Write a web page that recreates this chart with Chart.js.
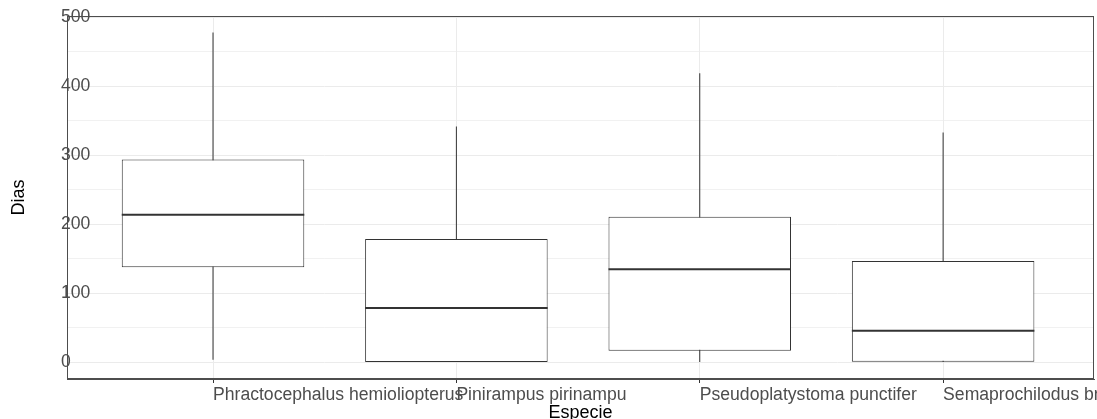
<!DOCTYPE html>
<html lang="pt">
<head>
  <meta charset="UTF-8">
  <title>Dias por Especie</title>
  <script src="https://cdn.jsdelivr.net/npm/chart.js"></script>
  <style>
    html, body { margin: 0; padding: 0; background: #fff; }
    #wrap { width: 1097px; height: 419px; }
  </style>
</head>
<body>
  <div id="wrap"><canvas id="boxChart"></canvas></div>
  <script>
    // valores (dias)
    const especies = ['Phractocephalus hemioliopterus', 'Pinirampus pirinampu', 'Pseudoplatystoma punctifer', 'Semaprochilodus brama'];
    const minimos = [4, 0, 0, 0];
    const q1 = [138, 0, 17, 1];
    const medianas = [214, 79, 135, 46];
    const q3 = [294, 179, 211, 147];
    const maximos = [478, 342, 419, 333];
    const yTicks = [0, 50, 100, 150, 200, 250, 300, 350, 400, 450, 500];

    Chart.defaults.font.family = "'Liberation Sans', Arial, sans-serif";

    const caixas = especies.map((e, i) => ({ x: i + 1, y: [q1[i], q3[i]] }));
    const bigodes = especies.map((e, i) => ({ x: i + 1, y: [minimos[i], maximos[i]] }));

    // linha da mediana por cima das caixas
    const medianaPlugin = {
      id: 'mediana',
      afterDatasetsDraw(chart) {
        const ctx = chart.ctx;
        const meta = chart.getDatasetMeta(1);
        ctx.save();
        ctx.strokeStyle = '#333';
        ctx.lineWidth = 2;
        meta.data.forEach((el, i) => {
          const y = chart.scales.y.getPixelForValue(medianas[i]);
          ctx.beginPath();
          ctx.moveTo(el.x - el.width / 2, y);
          ctx.lineTo(el.x + el.width / 2, y);
          ctx.stroke();
        });
        ctx.restore();
      }
    };

    // borda do painel
    const bordaPlugin = {
      id: 'borda',
      afterDraw(chart) {
        const a = chart.chartArea;
        const ctx = chart.ctx;
        ctx.save();
        ctx.strokeStyle = '#4d4d4d';
        ctx.lineWidth = 1;
        ctx.strokeRect(Math.round(a.left) + 0.5, Math.round(a.top) + 0.5, Math.round(a.right - a.left) - 1, Math.round(a.bottom - a.top) - 1);
        ctx.restore();
      }
    };

    new Chart(document.getElementById('boxChart'), {
      type: 'bar',
      data: {
        datasets: [
          {
            label: 'bigodes',
            data: bigodes,
            backgroundColor: '#333',
            borderWidth: 0,
            barThickness: 1,
            inflateAmount: 0,
            grouped: false,
            order: 2
          },
          {
            label: 'caixas',
            data: caixas,
            backgroundColor: '#fff',
            borderColor: '#333',
            borderWidth: 1,
            borderSkipped: false,
            barPercentage: 0.75,
            categoryPercentage: 1,
            grouped: false,
            order: 1
          }
        ]
      },
      options: {
        responsive: true,
        maintainAspectRatio: false,
        animation: false,
        layout: { padding: { top: 16, right: 3, left: 0, bottom: 0 } },
        plugins: {
          legend: { display: false },
          tooltip: { enabled: false }
        },
        scales: {
          x: {
            type: 'linear',
            min: 0.4,
            max: 4.62,
            offset: false,
            afterBuildTicks: s => { s.ticks = especies.map((e, i) => ({ value: i + 1 })); },
            afterFit: s => { s.paddingLeft = 0; s.paddingRight = 0; s.height = 40; },
            grid: { offset: false, color: '#ebebeb', tickColor: '#333', tickLength: 4 },
            border: { color: '#4d4d4d' },
            ticks: {
              align: 'start',
              autoSkip: false,
              maxRotation: 0,
              minRotation: 0,
              padding: 2,
              color: '#4d4d4d',
              font: { size: 17.6 },
              callback: v => especies[v - 1]
            },
            title: {
              display: true,
              text: 'Especie',
              color: '#000',
              font: { size: 18 },
              padding: { top: 0, bottom: -5 }
            }
          },
          y: {
            min: -23.9,
            max: 501.9,
            afterBuildTicks: s => { s.ticks = yTicks.map(v => ({ value: v })); },
            afterFit: s => { s.width = 67; s.paddingTop = 0; s.paddingBottom = 0; },
            grid: {
              color: '#ebebeb',
              lineWidth: c => (c.tick && c.tick.value % 100 === 0) ? 1 : 0.7,
              drawTicks: false
            },
            border: { color: '#4d4d4d' },
            ticks: {
              mirror: true,
              padding: -6,
              color: '#4d4d4d',
              font: { size: 17.6 },
              callback: v => v % 100 === 0 ? v : ''
            },
            title: {
              display: true,
              text: 'Dias',
              color: '#000',
              font: { size: 18 },
              padding: { top: 8, bottom: 0 }
            }
          }
        }
      },
      plugins: [medianaPlugin, bordaPlugin]
    });
  </script>
</body>
</html>
